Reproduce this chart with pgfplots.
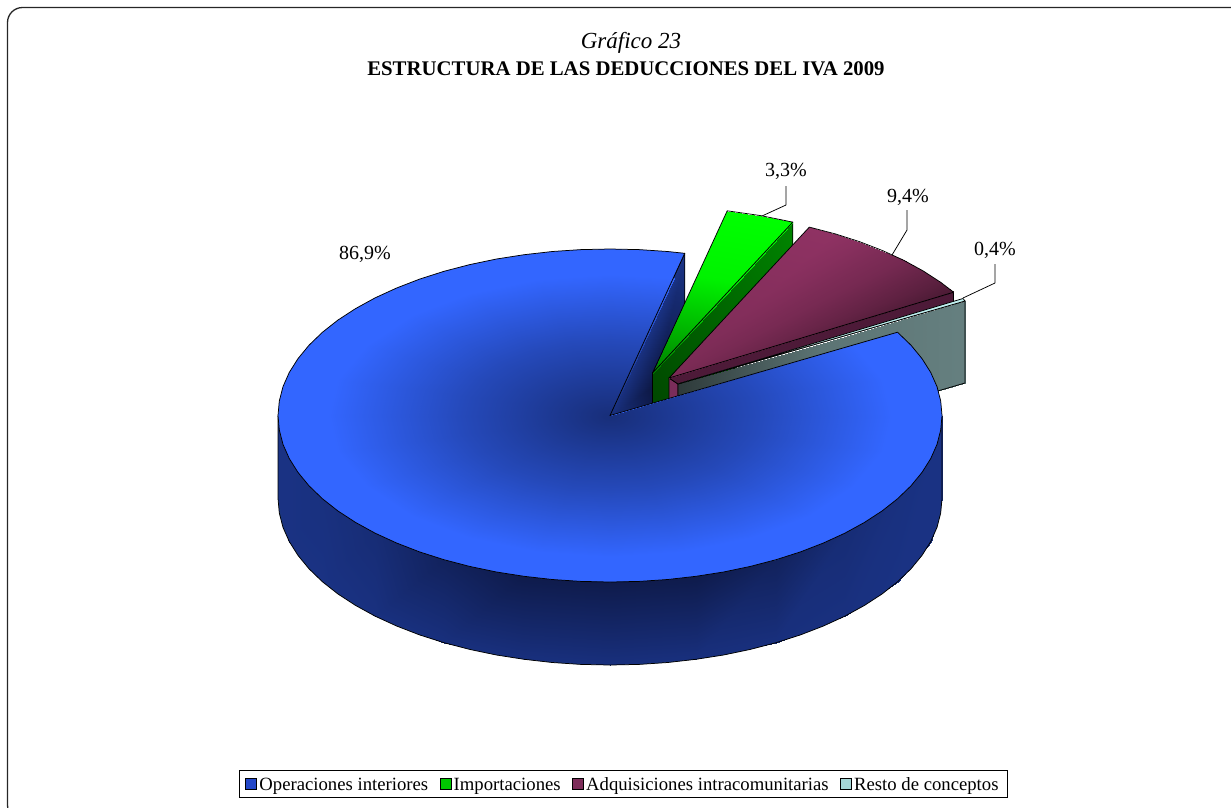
\documentclass[border=0pt]{standalone}
\usepackage{fontspec}
\setmainfont{Liberation Serif}
\usepackage{pgfplots}
\pgfplotsset{compat=1.18}
\usepgfplotslibrary{patchplots}
\definecolor{bluetop}{HTML}{3366FF}
\definecolor{blueside}{HTML}{1A3580}
\definecolor{greentop}{HTML}{00FF00}
\definecolor{marooncut}{HTML}{7A2D5A}
\definecolor{maroonband}{HTML}{4D1A38}
\definecolor{tealtop}{HTML}{C0F0F0}
\pgfplotsset{
  colormap={cblue}{rgb255=(12,22,64) rgb255=(51,102,255)},
  colormap={cgreen}{rgb255=(0,0,0) rgb255=(0,255,0)},
  colormap={cmaroon}{rgb255=(0,0,0) rgb255=(143,50,99)},
  colormap={cteal}{rgb255=(0,0,0) rgb255=(184,232,232)},
  shade/.style={forget plot, surf, shader=interp, draw=none, point meta=\thisrow{c}},
  edge/.style={forget plot, draw=black, line width=0.75pt, line join=round},
  swatch/.style={legend image code/.code={\draw[draw=black, line width=1pt, ##1] (0pt,-5.5pt) rectangle (11pt,5.5pt);}},
}
\begin{document}
\begin{tikzpicture}
\path[use as bounding box] (0,0) rectangle (1231pt,807pt);
\begin{axis}[
  at={(0,0)}, anchor=south west, scale only axis,
  width=1231pt, height=807pt,
  xmin=0, xmax=1231, ymin=0, ymax=807, y dir=reverse,
  hide axis, clip=false,
  point meta min=0, point meta max=1,
  legend cell align=left, legend columns=4,
  legend style={at={(axis cs:623,783.5)}, anchor=center, draw=black, line width=0.8pt,
    font=\fontsize{18.7}{21}\selectfont, inner xsep=6.5pt, inner ysep=3pt,
    nodes={text height=15.5pt, text depth=1.5pt},
    /tikz/every even column/.append style={column sep=9.5pt}},
]
% outer frame, runs off the page on the right and at the bottom
\addplot[forget plot, draw=black!85, line width=1.3pt, rounded corners=15pt]
  coordinates {(1240,7.5)(7.5,7.5)(7.5,820)(40,820)};

% cut face of the big slice
\addplot[forget plot, fill=blueside, draw=none] coordinates {(610,415.5)(684.7,253.3)(684.7,336)(610,498)} -- cycle;
\addplot[forget plot, patch, patch type=triangle, shader=interp, colormap name=cblue, point meta=\thisrow{c}] table {
x y c
610 415.5 0.33
684.7 253.3 0.38
655 385 0.00
684.7 253.3 0.38
684.7 336 0.15
655 385 0.00
610 415.5 0.33
655 385 0.00
655 415 0.05
};
\addplot[edge] coordinates {(610,415.5)(684.7,253.3)(684.7,336)};

% importaciones
\addplot[shade, colormap name=cgreen, mesh/rows=2, mesh/cols=2] table {
x y c
652.5 373 0.30
792.8 222.1 0.52
652.5 456 0.25
792.8 305 0.50
};
\addplot[edge] coordinates {(652.5,373)(792.8,222.1)(792.8,305)(652.5,456)} -- cycle;
\addplot[shade, colormap name=cgreen, mesh/rows=3, mesh/cols=3] table {
x y c
652.5 373 0.50
697.3 275.7 0.95
727.2 210.8 1
652.5 373 0.50
717.4 278.6 0.95
760.6 215.6 1
652.5 373 0.50
736.7 282.5 0.95
792.8 222.1 1
};
\addplot[edge] coordinates {(652.5,373)(727.2,210.8)(760.6,215.6)(792.8,222.1)} -- cycle;

% adquisiciones
\addplot[edge, fill=marooncut] coordinates {(669,378)(678,384)(678,461)(669,461)} -- cycle;
\addplot[edge, fill=maroonband] coordinates {(669,378)(953.6,292.2)(953.6,302)(678,384)} -- cycle;
\addplot[shade, colormap name=cmaroon, mesh/rows=8, mesh/cols=2] table {
x y c
669 378 0.85
809.3 227.1 1
669 378 0.85
835 233.8 1
669 378 0.85
859.4 241.6 0.95
669 378 0.85
882.4 250.5 0.88
669 378 0.85
903.8 260.3 0.82
669 378 0.85
923.3 271 0.72
669 378 0.85
941 282.5 0.62
669 378 0.85
953.6 292.2 0.52
};
\addplot[edge] coordinates {(669,378)(809.3,227.1)(835,233.8)(859.4,241.6)(882.4,250.5)(903.8,260.3)(923.3,271)(941,282.5)(953.6,292.2)} -- cycle;

% resto
\addplot[shade, colormap name=cteal, mesh/rows=2, mesh/cols=3] table {
x y c
678 384 0.25
820 343.5 0.50
965 301 0.55
678 467 0.25
820 426 0.50
965 383 0.55
};
\addplot[edge] coordinates {(678,384)(965,301)(965,383)(678,467)} -- cycle;
\addplot[edge, fill=tealtop] coordinates {(678,384)(963,298.5)(965,301)} -- cycle;

% side of the big slice
\addplot[forget plot, fill=blueside, draw=none] coordinates {(278,415.5)(278,498.5)(279.3,513)(283,527.4)(289.3,541.6)(298,555.4)(309.1,568.9)(322.5,581.8)(338,594)(355.7,605.5)(375.2,616.2)(396.6,626)(419.6,634.9)(444,642.7)(469.7,649.4)(496.5,655)(524.1,659.3)(552.4,662.5)(581,664.4)(610,665)(639,664.4)(667.6,662.5)(695.9,659.3)(723.5,655)(750.3,649.4)(776,642.7)(800.4,634.9)(823.4,626)(844.8,616.2)(864.3,605.5)(882,594)(897.5,581.8)(910.9,568.9)(922,555.4)(930.7,541.6)(937,527.4)(940.7,513)(942,498.5)(942,415.5)} -- cycle;
\addplot[shade, colormap name=cblue, mesh/rows=13, mesh/cols=2] table {
x y c
278 415.5 0.35
278 498.5 0.35
289.3 458.6 0.35
289.3 541.6 0.35
322.5 498.8 0.33
322.5 581.8 0.35
375.2 533.2 0.28
375.2 616.2 0.33
444 559.7 0.15
444 642.7 0.32
524.1 576.3 0.06
524.1 659.3 0.32
610 582 0.06
610 665 0.32
695.9 576.3 0.06
695.9 659.3 0.32
776 559.7 0.15
776 642.7 0.32
844.8 533.2 0.28
844.8 616.2 0.33
897.5 498.8 0.33
897.5 581.8 0.35
930.7 458.6 0.35
930.7 541.6 0.35
942 415.5 0.35
942 498.5 0.35
};
\addplot[edge] coordinates {(278,415.5)(278,498.5)(279.3,513)(283,527.4)(289.3,541.6)(298,555.4)(309.1,568.9)(322.5,581.8)(338,594)(355.7,605.5)(375.2,616.2)(396.6,626)(419.6,634.9)(444,642.7)(469.7,649.4)(496.5,655)(524.1,659.3)(552.4,662.5)(581,664.4)(610,665)(639,664.4)(667.6,662.5)(695.9,659.3)(723.5,655)(750.3,649.4)(776,642.7)(800.4,634.9)(823.4,626)(844.8,616.2)(864.3,605.5)(882,594)(897.5,581.8)(910.9,568.9)(922,555.4)(930.7,541.6)(937,527.4)(940.7,513)(942,498.5)(942,415.5)};

% top of the big slice
\addplot[forget plot, fill=bluetop, draw=none] coordinates {(610,415.5)(684.7,253.3)(667.6,251.5)(639,249.6)(610,249)(581,249.6)(552.4,251.5)(524.1,254.7)(496.5,259)(469.7,264.6)(444,271.3)(419.6,279.1)(396.6,288)(375.2,297.8)(355.7,308.5)(338,320)(322.5,332.2)(309.1,345.1)(298,358.6)(289.3,372.4)(283,386.6)(279.3,401)(278,415.5)(279.3,430)(283,444.4)(289.3,458.6)(298,472.4)(309.1,485.9)(322.5,498.8)(338,511)(355.7,522.5)(375.2,533.2)(396.6,543)(419.6,551.9)(444,559.7)(469.7,566.4)(496.5,572)(524.1,576.3)(552.4,579.5)(581,581.4)(610,582)(639,581.4)(667.6,579.5)(695.9,576.3)(723.5,572)(750.3,566.4)(776,559.7)(800.4,551.9)(823.4,543)(844.8,533.2)(864.3,522.5)(882,511)(897.5,498.8)(910.9,485.9)(922,472.4)(930.7,458.6)(937,444.4)(940.7,430)(942,415.5)(940.7,401)(937,386.6)(930.7,372.4)(922,358.6)(910.9,345.1)(897.5,332.2)} -- cycle;
\addplot[shade, colormap name=cblue, mesh/rows=22, mesh/cols=3] table {
x y c
610 415.5 0.30
643.6 342.5 0.64
673.5 277.7 1
610 415.5 0.30
610 340.6 0.64
610 274 1
610 415.5 0.30
571.3 343.1 0.64
536.9 278.8 1
610 415.5 0.30
535.3 350.6 0.64
468.9 293 1
610 415.5 0.30
504.4 362.5 0.64
410.5 315.4 1
610 415.5 0.30
480.6 378 0.64
365.6 344.8 1
610 415.5 0.30
465.7 396.1 0.64
337.4 378.9 1
610 415.5 0.30
460.6 415.5 0.64
327.8 415.5 1
610 415.5 0.30
465.7 434.9 0.64
337.4 452.1 1
610 415.5 0.30
480.6 453 0.64
365.6 486.3 1
610 415.5 0.30
504.4 468.5 0.64
410.5 515.6 1
610 415.5 0.30
535.3 480.4 0.64
468.9 538 1
610 415.5 0.30
571.3 487.9 0.64
536.9 552.2 1
610 415.5 0.30
610 490.4 0.64
610 557 1
610 415.5 0.30
648.7 487.9 0.64
683.1 552.2 1
610 415.5 0.30
684.7 480.4 0.64
751.1 538 1
610 415.5 0.30
715.6 468.5 0.64
809.5 515.6 1
610 415.5 0.30
739.4 453 0.64
854.4 486.3 1
610 415.5 0.30
754.3 434.9 0.64
882.6 452.1 1
610 415.5 0.30
759.4 415.5 0.64
892.2 415.5 1
610 415.5 0.30
754.3 396.1 0.64
882.6 378.9 1
610 415.5 0.30
739.4 378 0.64
854.4 344.8 1
};
\addplot[edge] coordinates {(610,415.5)(684.7,253.3)(667.6,251.5)(639,249.6)(610,249)(581,249.6)(552.4,251.5)(524.1,254.7)(496.5,259)(469.7,264.6)(444,271.3)(419.6,279.1)(396.6,288)(375.2,297.8)(355.7,308.5)(338,320)(322.5,332.2)(309.1,345.1)(298,358.6)(289.3,372.4)(283,386.6)(279.3,401)(278,415.5)(279.3,430)(283,444.4)(289.3,458.6)(298,472.4)(309.1,485.9)(322.5,498.8)(338,511)(355.7,522.5)(375.2,533.2)(396.6,543)(419.6,551.9)(444,559.7)(469.7,566.4)(496.5,572)(524.1,576.3)(552.4,579.5)(581,581.4)(610,582)(639,581.4)(667.6,579.5)(695.9,576.3)(723.5,572)(750.3,566.4)(776,559.7)(800.4,551.9)(823.4,543)(844.8,533.2)(864.3,522.5)(882,511)(897.5,498.8)(910.9,485.9)(922,472.4)(930.7,458.6)(937,444.4)(940.7,430)(942,415.5)(940.7,401)(937,386.6)(930.7,372.4)(922,358.6)(910.9,345.1)(897.5,332.2)} -- cycle;

% leader lines
\addplot[edge] coordinates {(762,216)(786,205)(786,186)};
\addplot[edge] coordinates {(892,255)(907,230)(907,210)};
\addplot[edge] coordinates {(963,298)(995,283)(995,264)};

% legend
\addlegendimage{swatch, fill={rgb,255:red,35;green,71;blue,200}}
\addlegendimage{swatch, fill={rgb,255:red,0;green,200;blue,0}}
\addlegendimage{swatch, fill={rgb,255:red,125;green,45;blue,90}}
\addlegendimage{swatch, fill={rgb,255:red,165;green,215;blue,215}}
\legend{Operaciones interiores, Importaciones, Adquisiciones intracomunitarias, Resto de conceptos}

% labels
\node[font=\fontsize{20}{22}\selectfont] at (axis cs:365,254) {86,9\%};
\node[font=\fontsize{20}{22}\selectfont] at (axis cs:786,171) {3,3\%};
\node[font=\fontsize{20}{22}\selectfont] at (axis cs:908,197) {9,4\%};
\node[font=\fontsize{20}{22}\selectfont] at (axis cs:995,250) {0,4\%};
\node[font=\fontsize{23}{24}\selectfont\itshape] at (axis cs:631,43) {Gráfico 23};
\node[font=\fontsize{20.8}{22}\selectfont\bfseries] at (axis cs:626,69) {ESTRUCTURA DE LAS DEDUCCIONES DEL IVA 2009};
\end{axis}
\end{tikzpicture}
\end{document}
